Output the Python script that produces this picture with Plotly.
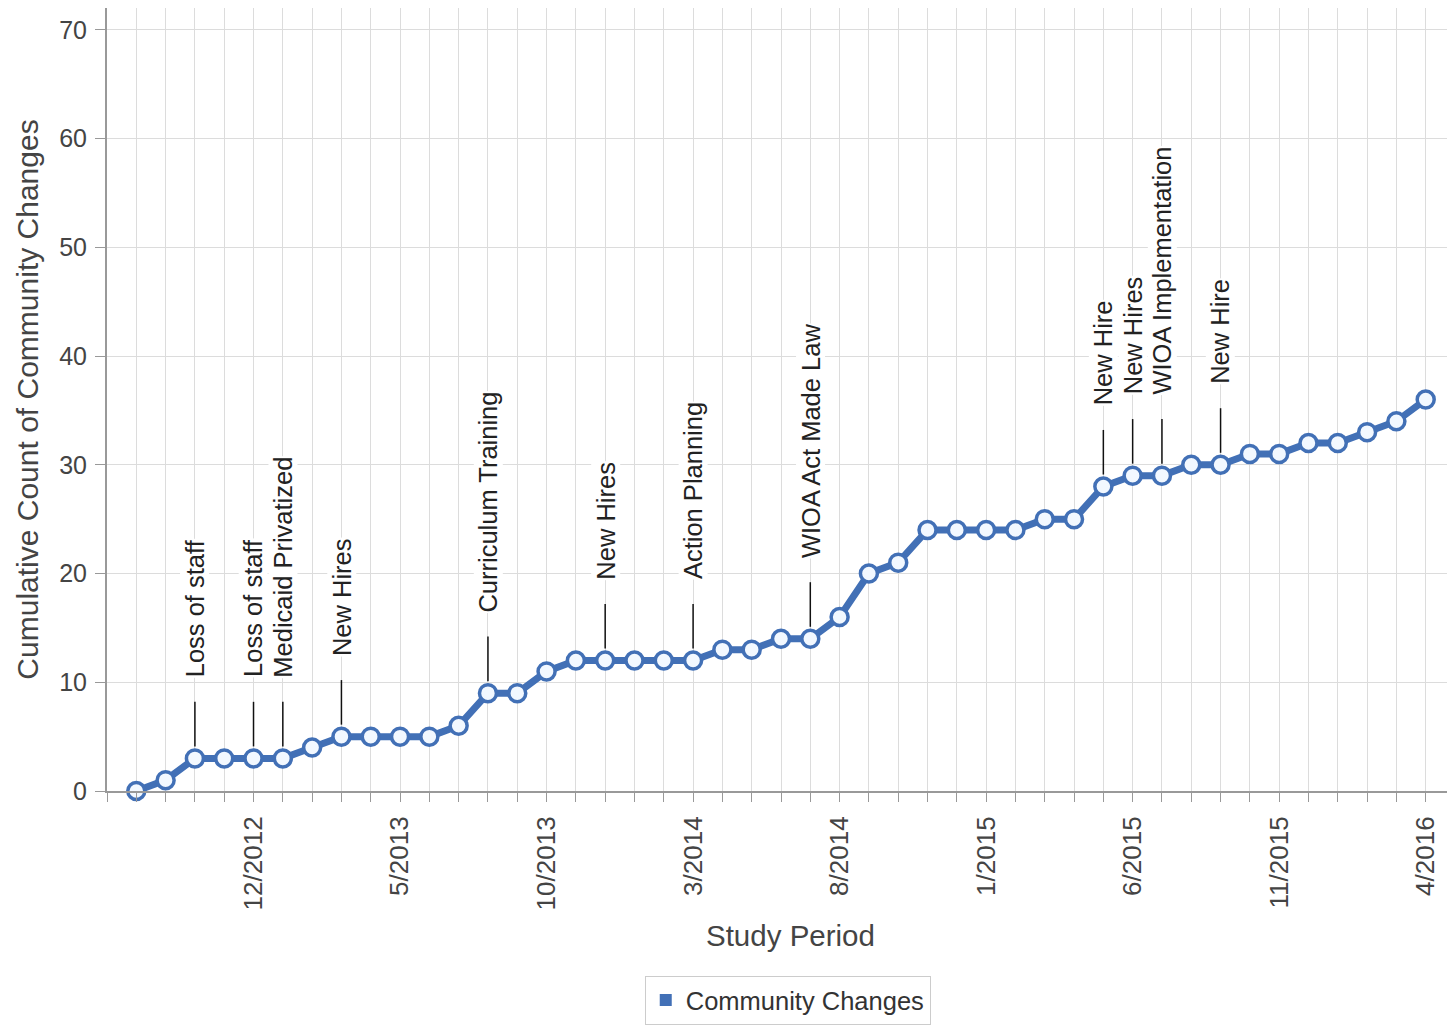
import plotly.graph_objects as go

months = ["8/2012", "9/2012", "10/2012", "11/2012", "12/2012", "1/2013", "2/2013", "3/2013",
          "4/2013", "5/2013", "6/2013", "7/2013", "8/2013", "9/2013", "10/2013", "11/2013",
          "12/2013", "1/2014", "2/2014", "3/2014", "4/2014", "5/2014", "6/2014", "7/2014",
          "8/2014", "9/2014", "10/2014", "11/2014", "12/2014", "1/2015", "2/2015", "3/2015",
          "4/2015", "5/2015", "6/2015", "7/2015", "8/2015", "9/2015", "10/2015", "11/2015",
          "12/2015", "1/2016", "2/2016", "3/2016", "4/2016"]
values = [0, 1, 3, 3, 3, 3, 4, 5, 5, 5, 5, 6, 9, 9, 11, 12, 12, 12, 12, 12, 13, 13, 14, 14,
          16, 20, 21, 24, 24, 24, 24, 25, 25, 28, 29, 29, 30, 30, 31, 31, 32, 32, 33, 34, 36]
labeled_months = ["12/2012", "5/2013", "10/2013", "3/2014", "8/2014", "1/2015", "6/2015",
                  "11/2015", "4/2016"]
event_months = ["10/2012", "12/2012", "1/2013", "3/2013", "8/2013", "12/2013", "3/2014",
                "7/2014", "5/2015", "6/2015", "7/2015", "9/2015"]
event_labels = ["Loss of staff", "Loss of staff", "Medicaid Privatized", "New Hires",
                "Curriculum Training", "New Hires", "Action Planning", "WIOA Act Made Law",
                "New Hire", "New Hires", "WIOA Implementation", "New Hire"]

FONT = "Liberation Sans, Arial, sans-serif"
BLUE = "#4270b6"

xpos = list(range(len(months)))
tickvals = list(range(-1, len(months) + 1))
ticktext = [(months[i] if 0 <= i < len(months) and months[i] in labeled_months else "")
            for i in tickvals]

fig = go.Figure()
fig.add_trace(go.Scatter(
    x=xpos, y=values, mode="lines+markers",
    line=dict(color=BLUE, width=7),
    marker=dict(symbol="circle", size=17, color="#f2f8ff", line=dict(color=BLUE, width=3.5)),
    cliponaxis=False, showlegend=False, name="Community Changes"))
fig.add_trace(go.Scatter(
    x=[None], y=[None], mode="markers", name="Community Changes",
    marker=dict(symbol="square", size=16, color=BLUE), showlegend=True))

for m, lab in zip(event_months, event_labels):
    i = months.index(m)
    v = values[i]
    fig.add_shape(type="line", xref="x", yref="y", x0=i, x1=i, y0=v + 1.1, y1=v + 5.2,
                  line=dict(color="#111111", width=1.5))
    fig.add_annotation(x=i, y=v, xref="x", yref="y", text=lab, showarrow=False,
                       textangle=-90, yanchor="bottom", xanchor="center", yshift=80,
                       bgcolor="white", borderpad=0,
                       font=dict(family=FONT, size=25.5, color="#222222"))

# x-axis title (placed as paper annotation to match its slightly off-centre position)
fig.add_annotation(x=0.5067, y=-0.185, xref="paper", yref="paper", text="Study Period",
                   showarrow=False, xanchor="center", yanchor="middle",
                   font=dict(family=FONT, size=29.5, color="#444444"))

fig.update_layout(
    width=1447, height=1017,
    margin=dict(l=99, r=0, t=0, b=233),
    paper_bgcolor="white", plot_bgcolor="white",
    font=dict(family=FONT, color="#444444"),
    legend=dict(orientation="h", x=0.505, xanchor="center", y=-0.237, yanchor="top",
                bordercolor="#cccccc", borderwidth=1, font=dict(size=25.5, color="#333333"),
                itemsizing="constant"),
)
fig.update_xaxes(
    automargin=False,
    range=[-1, len(months)], tickmode="array", tickvals=tickvals, ticktext=ticktext,
    tickangle=-90, ticks="outside", ticklen=9, tickcolor="#999999",
    showline=True, linecolor="#999999", linewidth=2,
    showgrid=True, gridcolor="#dcdcdc", gridwidth=1, zeroline=False,
    tickfont=dict(size=26, color="#444444"), ticklabelstandoff=4,
)
fig.update_yaxes(
    automargin=False,
    range=[0, 72], tickmode="array", tickvals=[0, 10, 20, 30, 40, 50, 60, 70],
    ticks="outside", ticklen=10, tickcolor="#999999",
    showline=True, linecolor="#999999", linewidth=2,
    showgrid=True, gridcolor="#dcdcdc", gridwidth=1, zeroline=False,
    tickfont=dict(size=25, color="#444444"), ticklabelstandoff=3,
    title=dict(text="Cumulative Count of Community Changes",
               font=dict(size=30, color="#444444"), standoff=12),
)

fig.write_html("out.html")
